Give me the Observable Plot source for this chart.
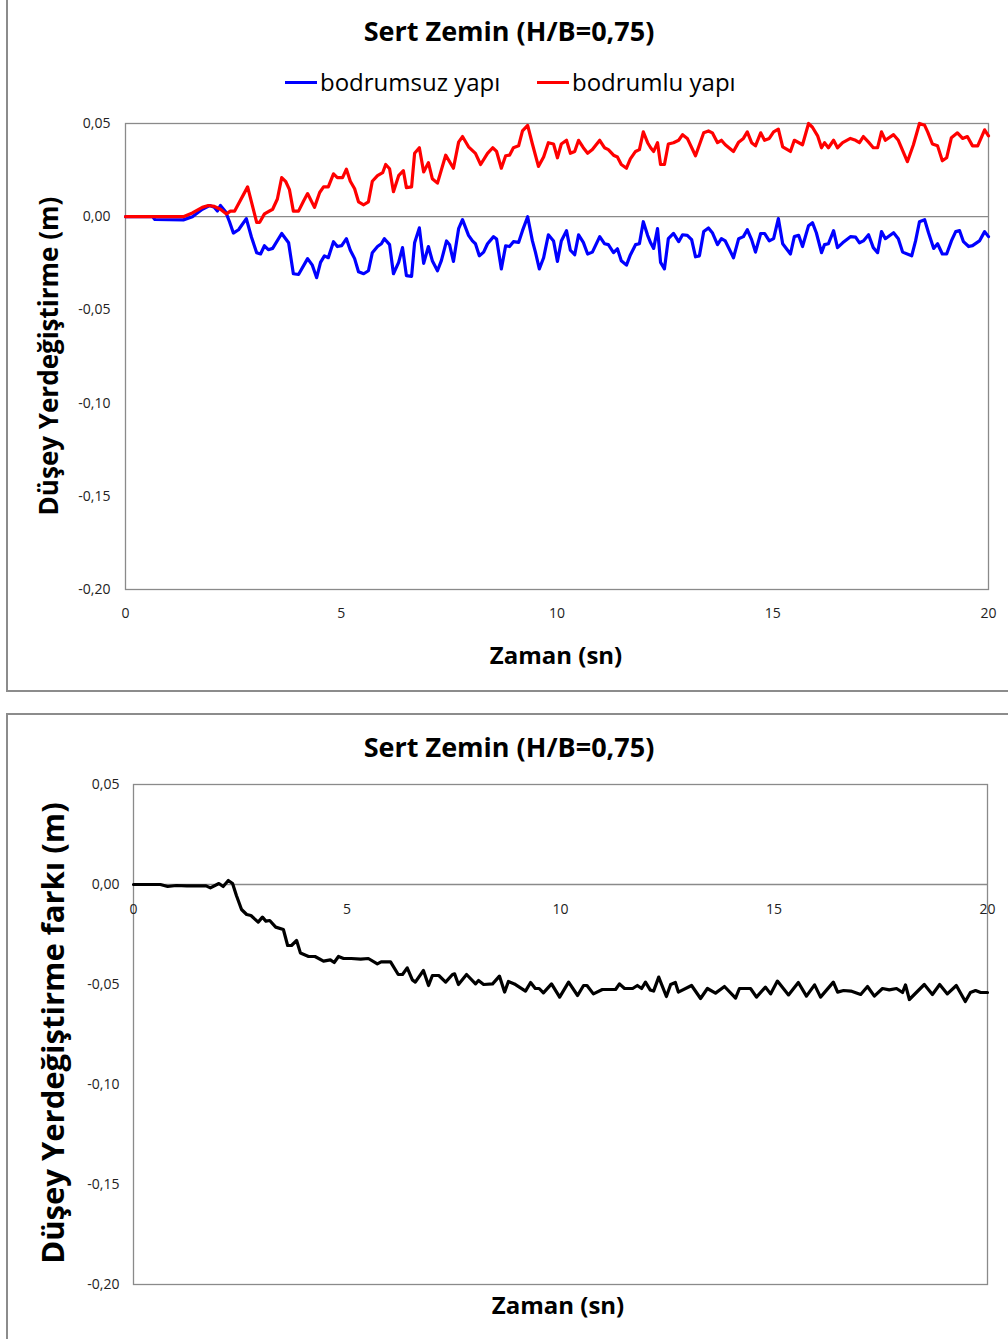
<!DOCTYPE html>
<html><head><meta charset="utf-8">
<script src="https://cdn.jsdelivr.net/npm/d3@7"></script>
<script src="https://cdn.jsdelivr.net/npm/@observablehq/plot@0.6"></script>
<style>
body{margin:0;background:#fff;font-family:"Open Sans",sans-serif;}
#wrap{position:relative;width:1008px;height:1339px;overflow:hidden;background:#fff}
.box{position:absolute;border:2px solid #8c8c8c;box-sizing:border-box}
.t{position:absolute;white-space:nowrap;color:#000;line-height:1;transform:translate(-50%,-50%)}
.b{font-weight:700}
.sw{position:absolute;height:3px}
.plot{position:absolute;left:0}
</style></head><body>
<div id="wrap">
  <div class="box" style="left:6px;top:-4px;width:1020px;height:696px"></div>
  <div class="box" style="left:6px;top:713px;width:1020px;height:640px"></div>
</div>
<script>
// ---- data ----
const xTicks = [0, 5, 10, 15, 20];
const yTicks = [0.05, 0, -0.05, -0.10, -0.15, -0.20];
const titleText = "Sert Zemin (H/B=0,75)";
const seriesNames = ["bodrumsuz yapı", "bodrumlu yapı"];
const seriesColors = ["#0000ff", "#ff0000"];

const tBodrumsuz = [0,0.63,0.68,1.34,1.55,1.78,1.95,2.06,2.13,2.20,
2.32,2.41,2.50,2.62,2.80,2.92,3.04,3.13,3.22,3.31,
3.41,3.62,3.78,3.89,4.01,4.22,4.33,4.43,4.52,4.61,
4.70,4.82,4.91,5.01,5.12,5.21,5.31,5.40,5.52,5.63,
5.72,5.84,5.93,6.00,6.12,6.21,6.33,6.42,6.51,6.63,
6.70,6.81,6.91,7.02,7.11,7.23,7.32,7.44,7.51,7.60,
7.72,7.81,7.95,8.04,8.11,8.20,8.30,8.39,8.53,8.60,
8.71,8.81,8.90,8.99,9.11,9.20,9.32,9.43,9.50,9.59,
9.69,9.80,9.92,10.01,10.10,10.22,10.31,10.41,10.50,10.61,
10.71,10.82,10.99,11.10,11.19,11.31,11.40,11.49,11.61,11.70,
11.82,11.91,12.00,12.10,12.17,12.24,12.33,12.40,12.49,12.58,
12.70,12.82,12.91,13.02,13.12,13.21,13.30,13.40,13.51,13.60,
13.72,13.81,13.90,14.09,14.21,14.32,14.41,14.51,14.60,14.72,
14.81,14.92,15.02,15.13,15.23,15.41,15.50,15.60,15.69,15.83,
15.92,16.01,16.13,16.20,16.29,16.41,16.50,16.62,16.80,16.92,
17.01,17.10,17.22,17.33,17.43,17.52,17.61,17.80,17.91,18.01,
18.22,18.31,18.40,18.52,18.61,18.73,18.82,18.93,19.03,19.14,
19.24,19.33,19.42,19.54,19.63,19.79,19.91,20.0];
const vBodrumsuz = [0,0,-0.0015,-0.0017,0,0.004,0.006,0.005,0.003,0.006,
0.0027,-0.0027,-0.0088,-0.007,-0.001,-0.011,-0.0193,-0.020,-0.0156,-0.0177,
-0.017,-0.009,-0.014,-0.0306,-0.031,-0.0225,-0.026,-0.0327,-0.0245,-0.021,
-0.022,-0.0134,-0.016,-0.0155,-0.0118,-0.018,-0.0225,-0.0295,-0.0306,-0.029,
-0.0193,-0.016,-0.0145,-0.0118,-0.015,-0.0306,-0.0245,-0.0166,-0.0316,-0.032,
-0.014,-0.006,-0.025,-0.016,-0.0236,-0.029,-0.0236,-0.013,-0.015,-0.024,
-0.0064,-0.0016,-0.010,-0.013,-0.0145,-0.021,-0.019,-0.0145,-0.0107,-0.012,
-0.028,-0.0156,-0.016,-0.0134,-0.0138,-0.0075,0,-0.013,-0.019,-0.028,
-0.022,-0.0097,-0.013,-0.024,-0.013,-0.0075,-0.018,-0.0204,-0.0097,-0.0138,
-0.020,-0.019,-0.0107,-0.0145,-0.015,-0.0193,-0.0172,-0.0236,-0.026,-0.0205,
-0.015,-0.0145,-0.0027,-0.010,-0.014,-0.017,-0.0064,-0.0245,-0.028,-0.0118,
-0.009,-0.0134,-0.0097,-0.010,-0.0123,-0.0215,-0.021,-0.008,-0.006,-0.0086,
-0.015,-0.0118,-0.013,-0.022,-0.0118,-0.0107,-0.007,-0.0123,-0.019,-0.009,
-0.009,-0.013,-0.0118,-0.001,-0.0145,-0.020,-0.0107,-0.010,-0.016,-0.0048,
-0.0032,-0.0086,-0.0193,-0.015,-0.0145,-0.0075,-0.0166,-0.014,-0.0107,-0.011,
-0.014,-0.013,-0.0097,-0.0166,-0.0193,-0.008,-0.0118,-0.0086,-0.0118,-0.019,
-0.021,-0.013,-0.0027,-0.0016,-0.0086,-0.017,-0.0145,-0.020,-0.020,-0.013,
-0.008,-0.0075,-0.0134,-0.016,-0.0155,-0.013,-0.008,-0.0107];

const tBodrumlu = [0,0.63,1.34,1.55,1.78,1.92,2.06,2.20,2.34,2.43,
2.53,2.83,3.04,3.11,3.22,3.41,3.52,3.62,3.71,3.80,
3.89,4.01,4.13,4.22,4.38,4.50,4.59,4.70,4.82,4.91,
5.03,5.12,5.21,5.31,5.40,5.52,5.63,5.72,5.84,5.96,
6.03,6.12,6.21,6.33,6.44,6.51,6.63,6.70,6.81,6.91,
7.02,7.11,7.23,7.42,7.60,7.72,7.81,7.95,8.11,8.23,
8.39,8.51,8.60,8.71,8.81,8.90,8.99,9.11,9.20,9.32,
9.43,9.57,9.69,9.80,9.92,10.01,10.10,10.22,10.31,10.41,
10.50,10.61,10.71,10.82,10.99,11.10,11.19,11.31,11.40,11.49,
11.61,11.70,11.82,11.91,12.00,12.10,12.17,12.24,12.33,12.40,
12.49,12.58,12.70,12.82,12.91,13.02,13.21,13.40,13.51,13.60,
13.72,13.81,13.90,14.09,14.21,14.32,14.41,14.51,14.60,14.72,
14.81,14.92,15.02,15.13,15.23,15.41,15.50,15.69,15.83,15.92,
16.04,16.13,16.20,16.29,16.41,16.50,16.62,16.80,16.92,17.01,
17.10,17.22,17.33,17.43,17.52,17.61,17.80,17.91,18.12,18.26,
18.40,18.52,18.59,18.70,18.82,18.93,19.03,19.14,19.28,19.40,
19.51,19.63,19.75,19.91,20.0];
const vBodrumlu = [0,0,0,0.002,0.005,0.006,0.0055,0.004,0.0015,0.003,
0.003,0.016,-0.003,-0.003,0.0015,0.004,0.0095,0.021,0.019,0.0145,
0.003,0.003,0.0086,0.0124,0.005,0.013,0.016,0.016,0.023,0.021,
0.021,0.0255,0.019,0.015,0.008,0.0064,0.008,0.019,0.022,0.0236,
0.028,0.0257,0.0134,0.022,0.0247,0.0156,0.016,0.034,0.037,0.024,
0.029,0.0204,0.018,0.033,0.026,0.040,0.043,0.0375,0.034,0.028,
0.034,0.037,0.035,0.026,0.0327,0.033,0.037,0.038,0.046,0.049,
0.039,0.027,0.032,0.0397,0.039,0.0316,0.039,0.041,0.034,0.035,
0.041,0.037,0.034,0.036,0.041,0.037,0.036,0.033,0.032,0.028,
0.026,0.031,0.035,0.036,0.0455,0.0397,0.037,0.035,0.0397,0.028,
0.028,0.039,0.0397,0.041,0.044,0.042,0.0327,0.045,0.046,0.045,
0.0397,0.041,0.0386,0.035,0.040,0.042,0.0455,0.0397,0.038,0.045,
0.041,0.042,0.0455,0.047,0.0375,0.035,0.041,0.0386,0.050,0.048,
0.0434,0.037,0.0397,0.037,0.041,0.037,0.0397,0.042,0.041,0.0397,
0.043,0.040,0.037,0.037,0.0455,0.041,0.044,0.041,0.0295,0.0386,
0.050,0.049,0.0455,0.039,0.038,0.030,0.0316,0.0424,0.045,0.042,
0.043,0.038,0.038,0.0466,0.0434];

const tFark = [0,0.63,0.8,1.0,1.25,1.5,1.7,1.8,2.0,2.1,
2.22,2.32,2.41,2.53,2.65,2.75,2.92,3.02,3.1,3.19,
3.33,3.51,3.61,3.7,3.82,3.91,4.1,4.25,4.45,4.61,
4.7,4.8,4.92,5.1,5.32,5.5,5.71,5.8,6.02,6.2,
6.3,6.41,6.53,6.6,6.79,6.91,7.0,7.15,7.31,7.47,
7.52,7.61,7.8,8.01,8.08,8.2,8.41,8.57,8.69,8.78,
8.92,9.18,9.3,9.41,9.5,9.6,9.79,9.98,10.19,10.4,
10.54,10.62,10.77,10.98,11.29,11.38,11.5,11.69,11.8,11.9,
11.99,12.1,12.18,12.3,12.48,12.58,12.69,12.76,13.07,13.28,
13.44,13.63,13.84,14.1,14.19,14.45,14.59,14.8,14.92,15.08,
15.34,15.57,15.76,15.95,16.09,16.39,16.49,16.63,16.8,17.03,
17.19,17.35,17.54,17.7,17.87,18.01,18.08,18.17,18.38,18.52,
18.71,18.88,19.06,19.27,19.48,19.6,19.72,19.84,20.0];
const vFark = [0,0,-0.001,-0.0005,-0.0007,-0.0007,-0.0007,-0.0017,0.0005,-0.001,
0.002,0.0005,-0.0055,-0.0125,-0.015,-0.0155,-0.0188,-0.0163,-0.0183,-0.018,
-0.0213,-0.0225,-0.0305,-0.0305,-0.028,-0.0343,-0.036,-0.036,-0.0383,-0.0377,
-0.039,-0.036,-0.037,-0.037,-0.0373,-0.037,-0.0397,-0.0387,-0.0387,-0.045,
-0.045,-0.0417,-0.0477,-0.0488,-0.043,-0.0505,-0.0455,-0.0455,-0.0488,-0.045,
-0.0447,-0.050,-0.045,-0.0497,-0.048,-0.050,-0.0497,-0.0458,-0.0538,-0.0485,
-0.0497,-0.0533,-0.049,-0.052,-0.052,-0.0542,-0.0497,-0.0563,-0.0488,-0.0555,
-0.0505,-0.0505,-0.0547,-0.0525,-0.0525,-0.0497,-0.052,-0.052,-0.0505,-0.052,
-0.0488,-0.0527,-0.0533,-0.0463,-0.056,-0.050,-0.049,-0.0538,-0.0505,-0.057,
-0.052,-0.0543,-0.051,-0.0568,-0.052,-0.052,-0.0563,-0.0513,-0.0547,-0.0483,
-0.0552,-0.049,-0.0558,-0.0502,-0.0563,-0.0488,-0.0538,-0.053,-0.0533,-0.055,
-0.051,-0.0558,-0.052,-0.0527,-0.052,-0.054,-0.0502,-0.0575,-0.053,-0.050,
-0.055,-0.050,-0.0547,-0.0505,-0.0585,-0.054,-0.053,-0.054,-0.054];

// ---- build ----
const toRows = (ts, vs) => ts.map((t, i) => ({t, v: vs[i]}));
const blue = toRows(tBodrumsuz, vBodrumsuz);
const red = toRows(tBodrumlu, vBodrumlu);
const fark = toRows(tFark, vFark);
const fmt = d => d.toFixed(2).replace(".", ",");
const FONT = '"Open Sans", sans-serif';
const GRAY = "#8a8a8a";
const wrap = document.getElementById("wrap");

function addText(txt, x, y, size, bold, rot) {
  const d = document.createElement("div");
  d.className = "t" + (bold ? " b" : "");
  d.textContent = txt;
  d.style.left = x + "px"; d.style.top = y + "px";
  d.style.fontSize = size + "px";
  if (rot) d.style.transform = "translate(-50%,-50%) rotate(-90deg)";
  wrap.appendChild(d);
}

const p1 = Plot.plot({
  width: 1008, height: 590,
  marginLeft: 125, marginRight: 20, marginTop: 23, marginBottom: 101,
  style: {fontFamily: FONT, fontSize: "14px", color: "#222", background: "transparent"},
  x: {domain: [0, 20]},
  y: {domain: [-0.2, 0.05]},
  marks: [
    Plot.frame({stroke: GRAY, strokeWidth: 1.3}),
    Plot.ruleY([0], {stroke: GRAY, strokeWidth: 1.3}),
    Plot.axisY({ticks: yTicks, tickFormat: fmt, tickSize: 0, tickPadding: 15, label: null}),
    Plot.axisX({ticks: xTicks, tickFormat: d => String(d), tickSize: 0, tickPadding: 19, label: null}),
    Plot.line(blue, {x: "t", y: "v", stroke: seriesColors[0], strokeWidth: 3.2}),
    Plot.line(red, {x: "t", y: "v", stroke: seriesColors[1], strokeWidth: 3.2})
  ]
});
p1.classList.add("plot"); p1.style.top = "100px";
wrap.appendChild(p1);

const p2 = Plot.plot({
  width: 1008, height: 560,
  marginLeft: 133, marginRight: 21, marginTop: 14, marginBottom: 46,
  style: {fontFamily: FONT, fontSize: "14px", color: "#222", background: "transparent"},
  x: {domain: [0, 20], axis: null},
  y: {domain: [-0.2, 0.05]},
  marks: [
    Plot.frame({stroke: GRAY, strokeWidth: 1.3}),
    Plot.ruleY([0], {stroke: GRAY, strokeWidth: 1.3}),
    Plot.axisY({ticks: yTicks, tickFormat: fmt, tickSize: 0, tickPadding: 14, label: null}),
    Plot.text(xTicks, {x: d => d, y: 0, text: d => String(d), dy: 25, fontSize: 14, fill: "#222"}),
    Plot.line(fark, {x: "t", y: "v", stroke: "#000", strokeWidth: 3.2})
  ]
});
p2.classList.add("plot"); p2.style.top = "770px";
wrap.appendChild(p2);

// titles, legend, axis labels
addText(titleText, 509, 30, 27, true);
addText(titleText, 509, 746, 27, true);
addText("Düşey Yerdeğiştirme (m)", 48, 356, 26, true, true);
addText("Zaman (sn)", 556, 655, 24, true);
addText("Düşey Yerdeğiştirme farkı (m)", 52, 1033, 31, true, true);
addText("Zaman (sn)", 558, 1305, 24, true);

const legendX = [285, 537];
seriesNames.forEach((name, i) => {
  const sw = document.createElement("div");
  sw.className = "sw";
  sw.style.left = legendX[i] + "px"; sw.style.top = "81px";
  sw.style.width = "32px"; sw.style.background = seriesColors[i];
  wrap.appendChild(sw);
  const d = document.createElement("div");
  d.className = "t";
  d.style.transform = "translate(0,-50%)";
  d.style.left = (legendX[i] + 35) + "px"; d.style.top = "82px";
  d.style.fontSize = "24px";
  d.textContent = name;
  wrap.appendChild(d);
});
</script>
</body></html>
